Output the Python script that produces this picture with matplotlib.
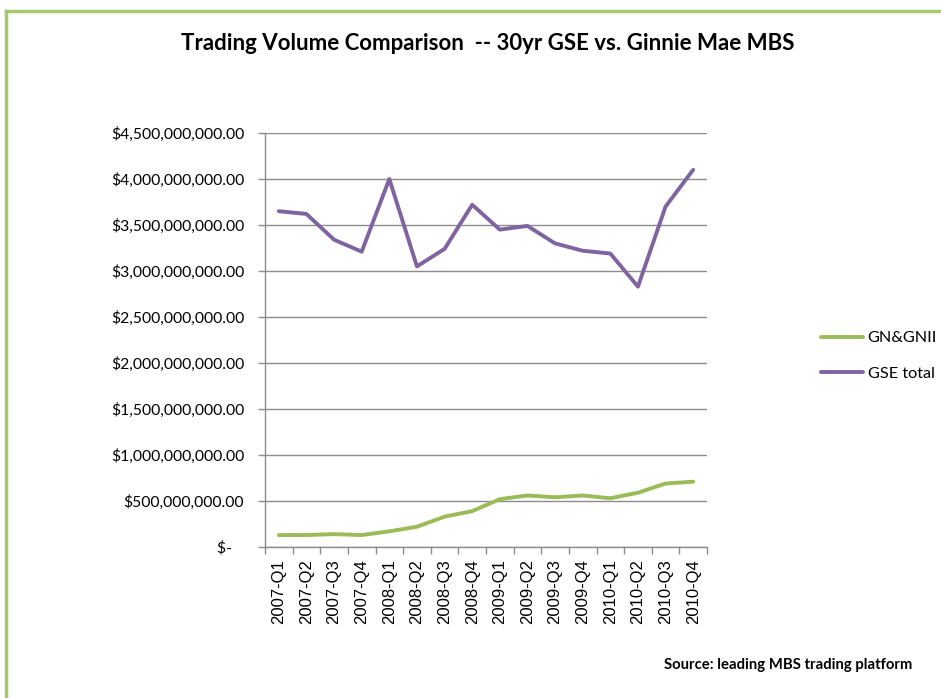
import numpy as np
import matplotlib
matplotlib.use("Agg")
import matplotlib.pyplot as plt
from matplotlib.lines import Line2D
from matplotlib.ticker import FixedLocator, FuncFormatter

quarters = ["2007-Q1", "2007-Q2", "2007-Q3", "2007-Q4",
            "2008-Q1", "2008-Q2", "2008-Q3", "2008-Q4",
            "2009-Q1", "2009-Q2", "2009-Q3", "2009-Q4",
            "2010-Q1", "2010-Q2", "2010-Q3", "2010-Q4"]
gn_gnii = [0.13, 0.13, 0.14, 0.13, 0.17, 0.22, 0.33, 0.39,
           0.52, 0.56, 0.54, 0.56, 0.53, 0.59, 0.69, 0.71]
gse_total = [3.65, 3.62, 3.34, 3.21, 4.00, 3.05, 3.24, 3.72,
             3.45, 3.49, 3.30, 3.22, 3.19, 2.83, 3.70, 4.10]
y_ticks = np.arange(0, 4.5e9 + 1, 5e8)

green = "#9BBB59"
purple = "#8064A2"
grid_col = "#8C8C8C"

fig = plt.figure(figsize=(9.41, 6.98), dpi=100)

# green frame around the slide
fig.add_artist(Line2D([6 / 941, 6 / 941], [0, 1 - 11 / 698], color="#A8C66C", lw=2.5))
fig.add_artist(Line2D([6 / 941, 1], [1 - 11 / 698, 1 - 11 / 698], color="#A8C66C", lw=2.5))

ax = fig.add_axes([265 / 941, 1 - 547 / 698, 442 / 941, 414 / 698])
x = np.arange(len(quarters))
scale = 1e9
ax.plot(x, np.array(gn_gnii) * scale, color=green, lw=2.8, label="GN&GNII",
        solid_joinstyle="round", solid_capstyle="round")
ax.plot(x, np.array(gse_total) * scale, color=purple, lw=2.8, label="GSE total",
        solid_joinstyle="round", solid_capstyle="round")

ax.set_xlim(-0.5, len(quarters) - 0.5)
ax.set_ylim(0, 4.5e9)
ax.set_yticks(y_ticks)
ax.yaxis.set_major_formatter(FuncFormatter(
    lambda v, p: "$-   " if v == 0 else "${:,.2f}".format(v)))
ax.yaxis.grid(True, color=grid_col, lw=1)
ax.set_axisbelow(True)

ax.set_xticks(x)
ax.set_xticklabels(quarters, rotation=90, fontfamily="Liberation Sans", fontsize=12)
ax.xaxis.set_minor_locator(FixedLocator(np.arange(-0.5, len(quarters), 1)))
ax.tick_params(axis="x", which="major", length=0, pad=9)
ax.tick_params(axis="x", which="minor", length=5, color=grid_col, width=1)
ax.tick_params(axis="y", length=5, color=grid_col, width=1, pad=10)
for lab in ax.get_yticklabels():
    lab.set_fontfamily("Lato")
    lab.set_fontsize(11.3)

for s in ["top", "right"]:
    ax.spines[s].set_visible(False)
for s in ["left", "bottom"]:
    ax.spines[s].set_color(grid_col)
    ax.spines[s].set_linewidth(1)

fig.text(488 / 941, 1 - 43 / 698, "Trading Volume Comparison  -- 30yr GSE vs. Ginnie Mae MBS",
         ha="center", va="center", fontsize=16, fontfamily="Lato", fontweight="bold")

fig.legend(loc="center left", bbox_to_anchor=(806 / 941, 1 - 356 / 698),
           frameon=False, prop={"family": "Lato", "size": 11.7},
           handlelength=2.6, handletextpad=0.3, labelspacing=1.3)

fig.text(912 / 941, 1 - 665 / 698, "Source: leading MBS trading platform",
         ha="right", va="center", fontsize=10.7, fontfamily="Lato", fontweight="bold")

fig.savefig("out.png", dpi=100)
